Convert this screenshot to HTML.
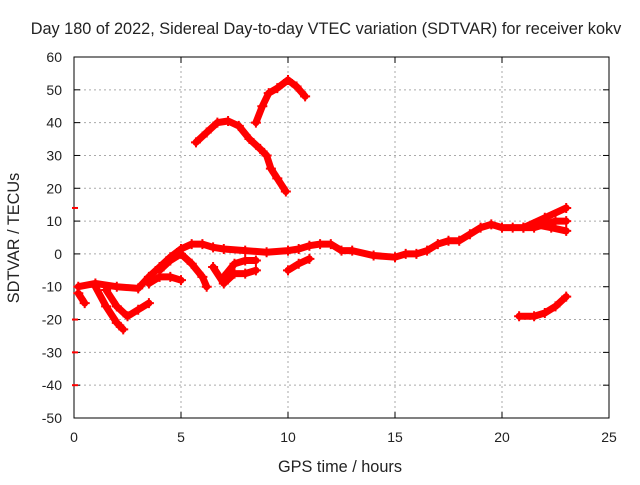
<!DOCTYPE html>
<html><head><meta charset="utf-8"><style>
body{margin:0;background:#fff}
svg text{font-family:"Liberation Sans",sans-serif;font-size:14px;fill:#222}
svg text.big{font-size:16.3px}
</style></head><body>
<svg width="640" height="480">
<g id="grid"></g><g id="axes"></g><g id="marks"></g>
<text class="big" x="326" y="34" text-anchor="middle">Day 180 of 2022, Sidereal Day-to-day VTEC variation (SDTVAR) for receiver kokv</text>
<text class="big" x="340" y="472" text-anchor="middle">GPS time / hours</text>
<text class="big" transform="translate(19,238) rotate(-90)" text-anchor="middle">SDTVAR / TECUs</text>
</svg>
<script>
const xTicks=[0,5,10,15,20,25];
const yTicks=[-50,-40,-30,-20,-10,0,10,20,30,40,50,60];
const trackUpperArc=[[5.7,34],[6.2,37],[6.7,40],[7.2,40.5],[7.7,39],[8.2,35],[8.7,32],[9.0,30],[9.2,26],[9.5,23],[9.9,19]];
const trackTop=[[8.5,40],[8.8,45],[9.1,49],[9.5,50.5],[10.0,53],[10.4,51],[10.8,48]];
const trackMain=[[0.2,-10],[1,-9],[2,-10],[3,-10.5],[3.5,-7],[4,-4],[4.5,-1],[5,1.5],[5.5,3],[6,3],[6.5,2],[7,1.5],[8,1],[9,0.5],[10,1],[10.5,1.5],[11,2.5],[11.5,3],[12,3],[12.5,1],[13,1],[14,-0.5],[15,-1],[15.5,0],[16,0],[16.5,1],[17,3],[17.5,4],[18,4],[18.5,6],[19,8],[19.5,9],[20,8],[20.5,8],[21,8],[21.5,8],[22,9],[22.5,10],[23,10]];
const trackLateUp=[[21,8],[22,11],[23,14]];
const trackLateDown=[[21.5,9],[22.3,8],[23,7]];
const trackBottomRight=[[20.8,-19],[21.5,-19],[22,-18],[22.5,-16],[23,-13]];
const trackDipA=[[0.2,-12],[0.5,-15]];
const trackDipB=[[1,-10],[1.5,-16],[2,-21],[2.3,-23]];
const trackDipC=[[1.5,-11],[2,-16],[2.5,-19],[3,-17],[3.5,-15]];
const trackDipD=[[3.5,-9],[4,-7],[4.5,-7],[5,-8]];
const trackDipE=[[4,-5],[4.5,-2],[5,0],[5.5,-3],[6,-7],[6.2,-10]];
const trackDipF=[[6.5,-4],[7,-9],[7.5,-6],[8,-6],[8.5,-5]];
const trackDipG=[[7,-7],[7.5,-3],[8,-2],[8.5,-2]];
const trackDipH=[[10,-5],[10.5,-3],[11,-1.5]];
const trackEdge=[[0,14],[0,-20],[0,-30],[0,-40]];
const tracks=[trackUpperArc,trackTop,trackMain,trackLateUp,trackLateDown,trackBottomRight,trackDipA,trackDipB,trackDipC,trackDipD,trackDipE,trackDipF,trackDipG,trackDipH];
const X0=74,X1=609,Y0=418,Y1=57;
const sx=v=>X0+(v-0)/(25-0)*(X1-X0);
const sy=v=>Y0-(v+50)/110*(Y0-Y1);
const NS="http://www.w3.org/2000/svg";
function mk(t,a,p){const e=document.createElementNS(NS,t);for(const k in a)e.setAttribute(k,a[k]);p.appendChild(e);return e;}
const g=document.getElementById('grid'),ax=document.getElementById('axes'),m=document.getElementById('marks');
xTicks.forEach(t=>{const x=sx(t);
 if(t>0&&t<25){const l=mk('line',{x1:x,y1:Y0,x2:x,y2:Y1,stroke:'#aaa','stroke-dasharray':'2,3'},g);}
 const tx=mk('text',{x:x,y:Y0+24,'text-anchor':'middle'},ax);tx.textContent=t;
 
 mk('line',{x1:x,y1:Y0,x2:x,y2:Y0-6,stroke:'#000'},ax);mk('line',{x1:x,y1:Y1,x2:x,y2:Y1+6,stroke:'#000'},ax);});
yTicks.forEach(t=>{const y=sy(t);
 if(t>-50&&t<60){const l=mk('line',{x1:X0,y1:y,x2:X1,y2:y,stroke:'#aaa','stroke-dasharray':'2,3'},g);}
 const tx=mk('text',{x:X0-12,y:y+5,'text-anchor':'end'},ax);tx.textContent=t;
 
 mk('line',{x1:X0,y1:y,x2:X0+6,y2:y,stroke:'#000'},ax);mk('line',{x1:X1,y1:y,x2:X1-6,y2:y,stroke:'#000'},ax);});
const fr=mk('rect',{x:X0,y:Y1,width:X1-X0,height:Y0-Y1,fill:'none',stroke:'#000'},ax);

tracks.forEach(tr=>{
 const pl=mk('polyline',{points:tr.map(p=>sx(p[0])+','+sy(p[1])).join(' '),fill:'none',stroke:'#f00','stroke-width':7,'stroke-linejoin':'round','stroke-linecap':'round'},m);
 
 tr.forEach(p=>{const x=sx(p[0]),y=sy(p[1]);mk('path',{d:`M${x-5},${y}h10M${x},${y-5}v10`,stroke:'#f00','stroke-width':2},m);});
});
trackEdge.forEach(p=>{const l=mk('line',{x1:sx(p[0])-2,y1:sy(p[1]),x2:sx(p[0])+4,y2:sy(p[1]),stroke:'#f00','stroke-width':2},m);
 });
</script>
</body></html>
